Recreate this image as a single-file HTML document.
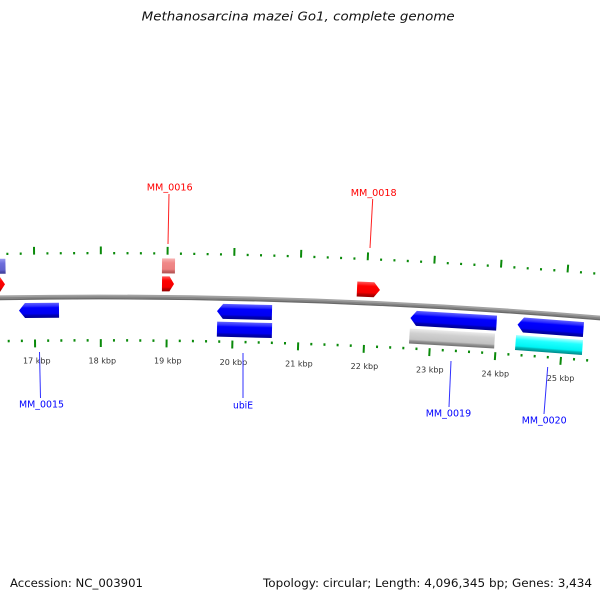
<!DOCTYPE html>
<html><head><meta charset="utf-8"><style>
html,body{margin:0;padding:0;background:#fff;width:600px;height:600px;overflow:hidden;}
#wrap{width:600px;height:600px;overflow:hidden;position:relative;}
svg{display:block;overflow:hidden;}
</style></head><body>
<div id="wrap">
<svg width="600" height="600" viewBox="0 0 600 600" xmlns="http://www.w3.org/2000/svg">
<defs>
<clipPath id="frame"><rect x="0" y="0" width="600" height="600"/></clipPath>
<linearGradient id="gB" x1="0" y1="0" x2="0" y2="1"><stop offset="0" stop-color="#6060ff"/><stop offset="0.22" stop-color="#2a2aff"/><stop offset="0.32" stop-color="#0000ff"/><stop offset="0.72" stop-color="#0000f0"/><stop offset="0.82" stop-color="#0000b8"/><stop offset="1" stop-color="#000090"/></linearGradient>
<linearGradient id="gG" x1="0" y1="0" x2="0" y2="1"><stop offset="0" stop-color="#ececec"/><stop offset="0.3" stop-color="#d0d0d0"/><stop offset="0.72" stop-color="#c2c2c2"/><stop offset="0.82" stop-color="#959595"/><stop offset="1" stop-color="#707070"/></linearGradient>
<linearGradient id="gC" x1="0" y1="0" x2="0" y2="1"><stop offset="0" stop-color="#b0ffff"/><stop offset="0.3" stop-color="#20ffff"/><stop offset="0.72" stop-color="#00f4f4"/><stop offset="0.82" stop-color="#00b8b8"/><stop offset="1" stop-color="#008888"/></linearGradient>
<linearGradient id="gR" x1="0" y1="0" x2="0" y2="1"><stop offset="0" stop-color="#ff5a5a"/><stop offset="0.28" stop-color="#ff0000"/><stop offset="0.72" stop-color="#f40000"/><stop offset="0.82" stop-color="#c00000"/><stop offset="1" stop-color="#940000"/></linearGradient>
<linearGradient id="gP" x1="0" y1="0" x2="0" y2="1"><stop offset="0" stop-color="#f8b4b4"/><stop offset="0.3" stop-color="#f08888"/><stop offset="0.72" stop-color="#ec8080"/><stop offset="0.85" stop-color="#c86464"/><stop offset="1" stop-color="#b05050"/></linearGradient>
<linearGradient id="gV" x1="0" y1="0" x2="0" y2="1"><stop offset="0" stop-color="#9a9af2"/><stop offset="0.3" stop-color="#6e6edc"/><stop offset="0.75" stop-color="#6262cc"/><stop offset="0.85" stop-color="#4c4cae"/><stop offset="1" stop-color="#3c3c98"/></linearGradient>
<path id="mi" d="M100 252V254.3M100 339.1V341.6" stroke="#0a8a0a" stroke-width="2" fill="none"/>
<path id="ma" d="M100 246.5V254.3M100 339.1V347" stroke="#0a8a0a" stroke-width="2" fill="none"/>
</defs>

<g clip-path="url(#frame)">
<!-- title -->
<text x="141.7" y="20.7" font-family="DejaVu Sans, Liberation Sans, sans-serif" font-style="italic" font-size="12" fill="#111" textLength="313" lengthAdjust="spacingAndGlyphs">Methanosarcina mazei Go1, complete genome</text>

<!-- backbone (drawn as short arc path instead of full circle) -->
<path d="M-20 298.1 A6001.2 6001.2 0 0 1 620 319.6" fill="none" stroke="#a2a2a2" stroke-width="2.2" transform="translate(0,-1.2)"/>
<path d="M-20 298.1 A5999.6 5999.6 0 0 1 620 319.6" fill="none" stroke="#858585" stroke-width="1.8" transform="translate(0,0.4)"/>
<path d="M-20 298.1 A5998.2 5998.2 0 0 1 620 319.6" fill="none" stroke="#6a6a6a" stroke-width="1.4" transform="translate(0,1.8)"/>

<!-- ticks -->
<use href="#mi" transform="rotate(-0.87825 100 6296.7)"/>
<use href="#mi" transform="rotate(-0.75168 100 6296.7)"/>
<use href="#ma" transform="rotate(-0.62510 100 6296.7)"/>
<use href="#mi" transform="rotate(-0.49852 100 6296.7)"/>
<use href="#mi" transform="rotate(-0.37195 100 6296.7)"/>
<use href="#mi" transform="rotate(-0.24537 100 6296.7)"/>
<use href="#mi" transform="rotate(-0.11879 100 6296.7)"/>
<use href="#ma" transform="rotate(0.00778 100 6296.7)"/>
<use href="#mi" transform="rotate(0.13436 100 6296.7)"/>
<use href="#mi" transform="rotate(0.26094 100 6296.7)"/>
<use href="#mi" transform="rotate(0.38752 100 6296.7)"/>
<use href="#mi" transform="rotate(0.51409 100 6296.7)"/>
<use href="#ma" transform="rotate(0.64067 100 6296.7)"/>
<use href="#mi" transform="rotate(0.76725 100 6296.7)"/>
<use href="#mi" transform="rotate(0.89382 100 6296.7)"/>
<use href="#mi" transform="rotate(1.02040 100 6296.7)"/>
<use href="#mi" transform="rotate(1.14698 100 6296.7)"/>
<use href="#ma" transform="rotate(1.27355 100 6296.7)"/>
<use href="#mi" transform="rotate(1.40013 100 6296.7)"/>
<use href="#mi" transform="rotate(1.52671 100 6296.7)"/>
<use href="#mi" transform="rotate(1.65329 100 6296.7)"/>
<use href="#mi" transform="rotate(1.77986 100 6296.7)"/>
<use href="#ma" transform="rotate(1.90644 100 6296.7)"/>
<use href="#mi" transform="rotate(2.03302 100 6296.7)"/>
<use href="#mi" transform="rotate(2.15959 100 6296.7)"/>
<use href="#mi" transform="rotate(2.28617 100 6296.7)"/>
<use href="#mi" transform="rotate(2.41275 100 6296.7)"/>
<use href="#ma" transform="rotate(2.53932 100 6296.7)"/>
<use href="#mi" transform="rotate(2.66590 100 6296.7)"/>
<use href="#mi" transform="rotate(2.79248 100 6296.7)"/>
<use href="#mi" transform="rotate(2.91905 100 6296.7)"/>
<use href="#mi" transform="rotate(3.04563 100 6296.7)"/>
<use href="#ma" transform="rotate(3.17221 100 6296.7)"/>
<use href="#mi" transform="rotate(3.29879 100 6296.7)"/>
<use href="#mi" transform="rotate(3.42536 100 6296.7)"/>
<use href="#mi" transform="rotate(3.55194 100 6296.7)"/>
<use href="#mi" transform="rotate(3.67852 100 6296.7)"/>
<use href="#ma" transform="rotate(3.80509 100 6296.7)"/>
<use href="#mi" transform="rotate(3.93167 100 6296.7)"/>
<use href="#mi" transform="rotate(4.05825 100 6296.7)"/>
<use href="#mi" transform="rotate(4.18482 100 6296.7)"/>
<use href="#mi" transform="rotate(4.31140 100 6296.7)"/>
<use href="#ma" transform="rotate(4.43798 100 6296.7)"/>
<use href="#mi" transform="rotate(4.56455 100 6296.7)"/>
<use href="#mi" transform="rotate(4.69113 100 6296.7)"/>

<!-- tick labels -->
<g font-family="DejaVu Sans, Liberation Sans, sans-serif" font-size="8" fill="#333" text-anchor="middle">
<text x="36.8" y="363.6">17 kbp</text>
<text x="102.3" y="363.3">18 kbp</text>
<text x="167.8" y="363.7">19 kbp</text>
<text x="233.4" y="364.8">20 kbp</text>
<text x="298.9" y="366.6">21 kbp</text>
<text x="364.4" y="369.1">22 kbp</text>
<text x="429.8" y="372.4">23 kbp</text>
<text x="495.3" y="376.4">24 kbp</text>
<text x="560.6" y="381.1">25 kbp</text>
</g>

<!-- genes: outer feature ring -->
<g transform="rotate(-1.11385 100 6296.7)"><rect x="77.25" y="258" width="45.5" height="15" fill="url(#gV)"/></g>
<g transform="rotate(0.65072 100 6296.7)"><rect x="93.5" y="258" width="13" height="15" fill="url(#gP)"/></g>

<!-- forward CDS ring -->
<g transform="rotate(-1.11956 100 6296.7)"><polygon points="77.5,276 117.5,276 122.5,283.5 117.5,291 77.5,291" fill="url(#gR)"/></g>
<g transform="rotate(0.64790 100 6296.7)"><polygon points="94,276 101.5,276 106,283.5 101.5,291 94,291" fill="url(#gR)"/></g>
<g transform="rotate(2.55912 100 6296.7)"><polygon points="88.5,276 105.5,276 111.5,283.5 105.5,291 88.5,291" fill="url(#gR)"/></g>

<!-- reverse CDS ring -->
<g transform="rotate(-0.58380 100 6296.7)"><polygon points="80,310.1 86,302.6 120,302.6 120,317.6 86,317.6" fill="url(#gB)"/></g>
<g transform="rotate(1.38298 100 6296.7)"><polygon points="72.5,310.1 78.5,302.6 127.5,302.6 127.5,317.6 78.5,317.6" fill="url(#gB)"/></g>
<g transform="rotate(3.38521 100 6296.7)"><polygon points="56.85,310.1 62.85,302.6 143.15,302.6 143.15,317.6 62.85,317.6" fill="url(#gB)"/></g>
<g transform="rotate(4.31563 100 6296.7)"><polygon points="66.95,310.1 72.95,302.6 133.05,302.6 133.05,317.6 72.95,317.6" fill="url(#gB)"/></g>

<!-- reverse feature ring -->
<g transform="rotate(1.38714 100 6296.7)"><rect x="72.5" y="320.6" width="55" height="15" fill="url(#gB)"/></g>
<g transform="rotate(3.38097 100 6296.7)"><rect x="57.35" y="320.6" width="85.3" height="15" fill="url(#gG)"/></g>
<g transform="rotate(4.31426 100 6296.7)"><rect x="66.45" y="320.6" width="67.1" height="15" fill="url(#gC)"/></g>

<!-- label lines -->
<g stroke-width="1" fill="none">
<line x1="169" y1="194" x2="168" y2="244" stroke="#ff2020"/>
<line x1="372.7" y1="199" x2="370" y2="248" stroke="#ff2020"/>
<line x1="39.5" y1="352" x2="40.5" y2="398" stroke="#3030ff"/>
<line x1="243" y1="353" x2="243" y2="398" stroke="#3030ff"/>
<line x1="451" y1="361" x2="449" y2="407" stroke="#3030ff"/>
<line x1="547.7" y1="367" x2="544" y2="414" stroke="#3030ff"/>
</g>

<!-- labels -->
<g font-family="DejaVu Sans, Liberation Sans, sans-serif" font-size="10">
<text x="146.7" y="190.7" fill="#ff0000" textLength="46" lengthAdjust="spacingAndGlyphs">MM_0016</text>
<text x="350.7" y="196" fill="#ff0000" textLength="46" lengthAdjust="spacingAndGlyphs">MM_0018</text>
<text x="19" y="407.7" fill="#0000ff" textLength="45" lengthAdjust="spacingAndGlyphs">MM_0015</text>
<text x="233" y="408.3" fill="#0000ff" textLength="20" lengthAdjust="spacingAndGlyphs">ubiE</text>
<text x="425.7" y="416.7" fill="#0000ff" textLength="45.5" lengthAdjust="spacingAndGlyphs">MM_0019</text>
<text x="521.7" y="423.3" fill="#0000ff" textLength="45" lengthAdjust="spacingAndGlyphs">MM_0020</text>
</g>

<!-- footer -->
<g font-family="DejaVu Sans, Liberation Sans, sans-serif" font-size="11.7" fill="#111">
<text x="10" y="587" textLength="133" lengthAdjust="spacingAndGlyphs">Accession: NC_003901</text>
<text x="263" y="587" textLength="329" lengthAdjust="spacingAndGlyphs">Topology: circular; Length: 4,096,345 bp; Genes: 3,434</text>
</g>
</g>
</svg>
</div>
</body></html>
